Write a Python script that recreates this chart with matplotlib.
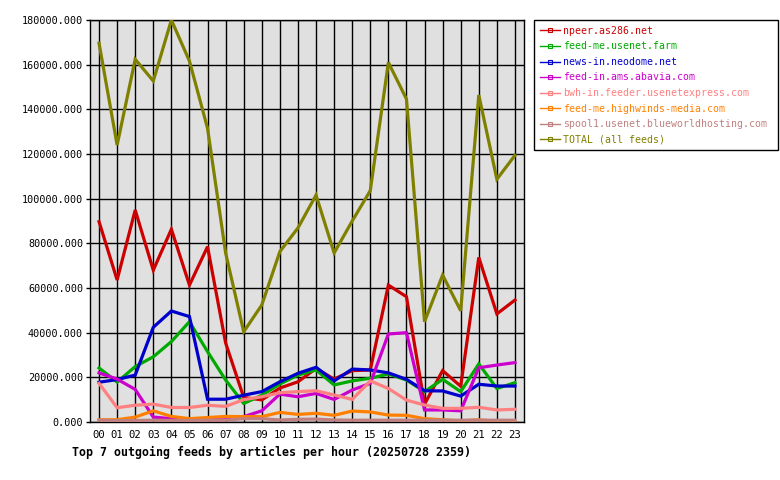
import numpy as np
import matplotlib
matplotlib.use('Agg')
import matplotlib.pyplot as plt
from matplotlib.lines import Line2D

hours = ['%02d' % h for h in range(24)]

npeer = [89700, 63600, 94900, 68000, 86300, 61300, 78500, 35400, 11000, 9900, 15200, 18000,
         24000, 19200, 23000, 23300, 61300, 56100, 8000, 23000, 16000, 73700, 48400, 54600]
usenet_farm = [24200, 17900, 24800, 29200, 36000, 44900, 31500, 18800, 8300, 12000, 17000, 21000,
               23300, 16600, 18400, 19600, 21500, 18800, 13600, 19100, 13600, 26000, 15000, 17600]
neodome = [17800, 19000, 21000, 42400, 49700, 47200, 10200, 10200, 12000, 13600, 18000, 21800,
           24500, 18400, 23700, 23300, 22000, 19100, 14000, 13900, 11600, 16900, 16100, 16100]
abavia = [22000, 19200, 14600, 2200, 1500, 1000, 1000, 1000, 2400, 5000, 12500, 11300,
          12800, 10100, 14300, 17300, 39400, 40000, 5400, 5400, 5000, 24300, 25500, 26600]
usenetexpress = [17300, 6400, 7500, 8000, 6500, 6500, 7500, 7000, 10000, 11300, 13100, 13600,
                 14000, 12100, 10100, 18400, 15000, 9800, 7600, 6100, 6100, 6600, 5400, 5700]
highwinds = [1000, 1000, 2200, 5000, 2500, 1500, 2000, 2500, 2400, 2400, 4300, 3400,
             3900, 3000, 4900, 4500, 3100, 3000, 1500, 1000, 500, 1000, 300, 300]
blueworld = [800, 600, 700, 800, 700, 700, 800, 800, 1500, 1500, 900, 1200,
             1300, 900, 800, 800, 800, 800, 800, 800, 800, 800, 800, 800]
total = [169600, 124000, 162400, 152700, 180000, 161600, 131500, 75700, 40400, 52400, 76300, 86900,
         101600, 75700, 90000, 103600, 161000, 144600, 44900, 65800, 49800, 146400, 108700, 119400]

names = ['npeer.as286.net', 'feed-me.usenet.farm', 'news-in.neodome.net', 'feed-in.ams.abavia.com',
         'bwh-in.feeder.usenetexpress.com', 'feed-me.highwinds-media.com',
         'spool1.usenet.blueworldhosting.com', 'TOTAL (all feeds)']
colors = ['#cc0000', '#00aa00', '#0000cc', '#cc00cc', '#ff8080', '#ff8000', '#c08080', '#808000']
series = [npeer, usenet_farm, neodome, abavia, usenetexpress, highwinds, blueworld, total]

mono = 'DejaVu Sans Mono'

fig = plt.figure(figsize=(7.8, 4.8), dpi=100)
ax = fig.add_axes([90/780, 58/480, 434/780, 402/480])
ax.set_facecolor('#e0e0e0')

x = np.arange(24)
for vals, c in zip(series, colors):
    ax.plot(x, vals, color=c, lw=2.3, solid_joinstyle='miter', zorder=3)

ax.set_xlim(-0.5, 23.5)
ax.set_ylim(0, 180000)
ax.set_xticks(x)
ax.set_xticklabels(hours, family=mono, fontsize=7.6)
yt = np.arange(0, 180001, 20000)
ax.set_yticks(yt)
ax.set_yticklabels(['%.3f' % v for v in yt], family=mono, fontsize=7.3)
ax.tick_params(axis='x', length=0, pad=6)
ax.tick_params(axis='y', length=3, width=1, pad=2)
ax.grid(True, color='black', lw=1)
ax.set_axisbelow(True)
for s in ax.spines.values():
    s.set_linewidth(1)

fig.text(72/780, 1 - 452/480, 'Top 7 outgoing feeds by articles per hour (20250728 2359)',
         family=mono, fontsize=8.4, fontweight='bold', va='center', ha='left')

handles = [Line2D([0], [0], color=c, lw=1, marker='s', markersize=2.5,
                  markerfacecolor='none', markeredgewidth=0.8) for c in colors]
leg = fig.legend(handles, names, loc='upper left',
                 bbox_to_anchor=(534/780, 1 - 20/480, 244/780, 0), mode='expand',
                 prop={'family': mono, 'size': 7.1}, labelcolor=colors,
                 fancybox=False, framealpha=1, edgecolor='black',
                 handlelength=2.0, handletextpad=0.35, labelspacing=0.56,
                 borderaxespad=0, borderpad=0.6)
leg.get_frame().set_linewidth(1)

fig.savefig('out.png', dpi=100)
